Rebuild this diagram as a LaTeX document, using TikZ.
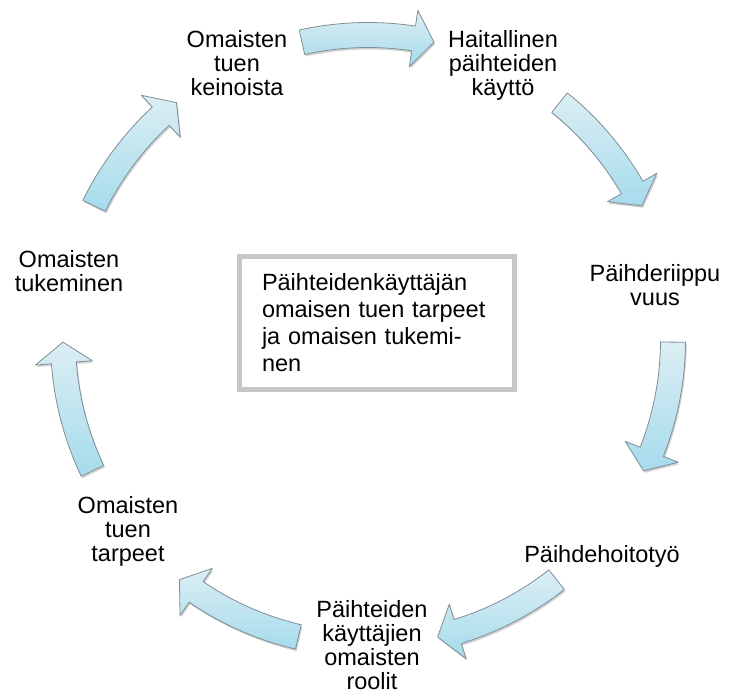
\documentclass[tikz,border=0pt]{standalone}
\usepackage{fontspec}
\setmainfont{Liberation Sans}
\usetikzlibrary{shadows}
\definecolor{cycleink}{HTML}{000000}
\definecolor{cyclelight}{HTML}{DCEEF4}
\definecolor{cycledark}{HTML}{A6DBEC}
\definecolor{cycleedge}{HTML}{7F8E96}
\definecolor{framegray}{HTML}{C6C6C6}
\tikzset{
  steptext/.style={font=\fontsize{23.5}{24}\selectfont, text=cycleink,
    align=center, inner sep=0pt},
  centrebox/.style={draw=framegray, fill=white, line width=5pt,
    font=\fontsize{23.5}{27}\selectfont, text=cycleink, align=left,
    text width=230pt, minimum width=275pt, minimum height=133pt,
    inner sep=0pt},
  arcarrow/.style={draw=cycleedge, line width=.8pt, line join=round,
    top color=cyclelight, bottom color=cycledark,
    drop shadow={shadow xshift=1.2pt, shadow yshift=-2pt,
      opacity=.18, fill=black}}
}
% curved block arrow on the cycle: #1 tail angle, #2 tip angle
\newcommand{\blockarc}[2]{%
  \path[arcarrow, shift={(368,356)}]
    (#1:317.5pt) arc[start angle=#1, end angle=#2+3.9, radius=317.5pt]
    -- (#2+3.9:333.5pt) -- (#2:305pt) -- (#2+3.9:276.5pt)
    -- (#2+3.9:292.5pt)
    arc[start angle=#2+3.9, end angle=#1, radius=292.5pt] -- cycle;}

\begin{document}
\begin{tikzpicture}[x=1pt,y=1pt]
  \useasboundingbox (0,0) rectangle (739,696);

  % arrows, clockwise
  \blockarc{102.5}{77.5}
  \blockarc{51.1}{26.1}
  \blockarc{-0.4}{-25.4}
  \blockarc{-51.8}{-76.8}
  \blockarc{-103.2}{-128.2}
  \blockarc{-154.6}{-179.6}
  \blockarc{-206.1}{-231.1}

  % steps
  \node[steptext] (keinot) at (237,633) {Omaisten\\tuen\\keinoista};
  \node[steptext] (haitta) at (503,631) {Haitallinen\\päihteiden\\käyttö};
  \node[steptext] (riippuvuus) at (655,411) {Päihderiippu\\vuus};
  \node[steptext] (hoitotyo) at (602,140) {Päihdehoitotyö};
  \node[steptext] (roolit) at (372,51)
    {Päihteiden\\käyttäjien\\omaisten\\roolit};
  \node[steptext] (tarpeet) at (128,165) {Omaisten\\tuen\\tarpeet};
  \node[steptext] (tukeminen) at (69,425) {Omaisten\\tukeminen};

  \node[centrebox] (centre) at (377,373)
    {Päihteidenkäyttäjän\\omaisen tuen tarpeet\\ja omaisen tukemi-\\nen};
\end{tikzpicture}
\end{document}
